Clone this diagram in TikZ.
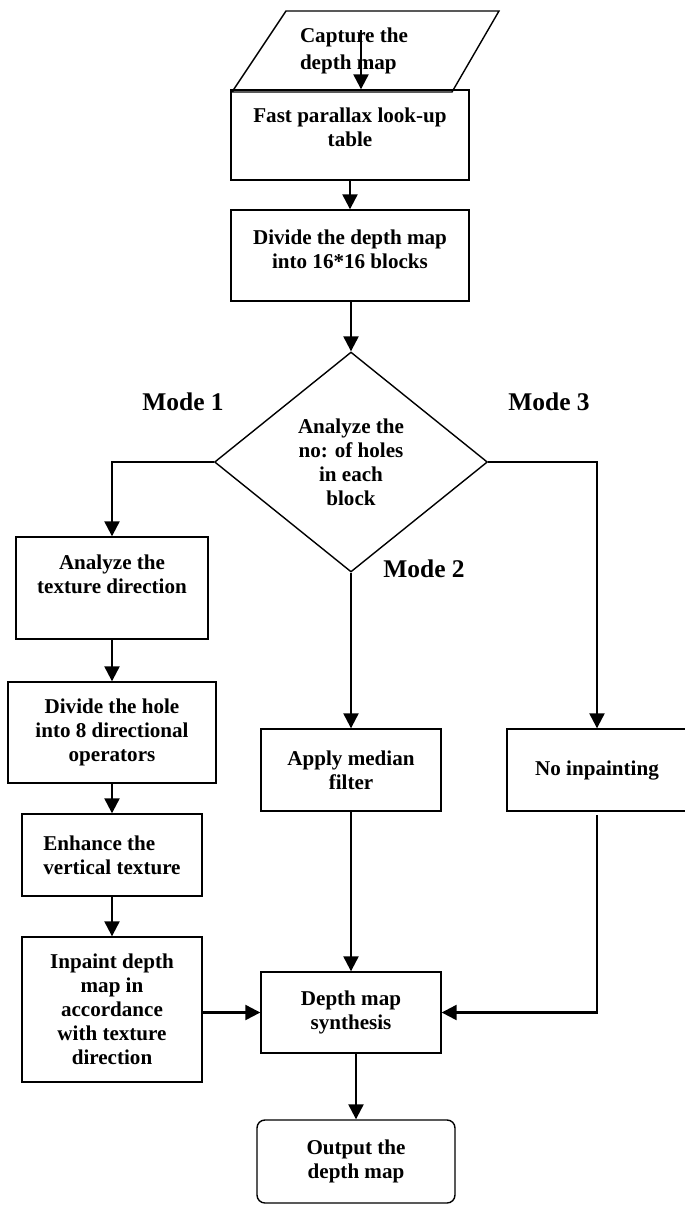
\documentclass[tikz,border=0pt]{standalone}
\usepackage{fontspec}
\setmainfont{Liberation Serif}
\usepackage{tikz}
\usetikzlibrary{arrows.meta,shapes.geometric,calc}

\begin{document}
\begin{tikzpicture}[x=0.02cm,y=-0.02cm,
font=\fontsize{12}{13.6}\selectfont\bfseries,
box/.style={draw,line width=0.8pt,align=center,inner sep=0pt},
arr/.style={line width=1.3pt,-{Triangle[length=8.5pt,width=8.5pt]}},
mode/.style={font=\fontsize{14.5}{16}\selectfont\bfseries}]
\useasboundingbox (0,0) rectangle (684,1205);
\draw[line width=0.8pt] (232,92) -- (286,11) -- (499,11) -- (452,92) -- cycle;
\node[align=left] (capture) at (354,51) {Capture the\\[1.7pt]depth map};
\coordinate (cap) at (361,30);
\node[box,minimum width=4.76cm,minimum height=1.8cm] (fast) at (350,135) {Fast parallax look-up\\table\\[-5pt]\mbox{}};
\node[box,minimum width=4.76cm,minimum height=1.82cm] (blocks) at (350,255.5) {Divide the depth map\\into 16*16 blocks\\[-6.2pt]\mbox{}};
\node[draw,diamond,aspect=1.24,minimum width=5.46cm,minimum height=4.4cm,inner sep=0pt,line width=0.8pt,align=center] (holes) at (351,462) {Analyze the\\no: of holes\\in each\\block};
\node[mode] (m1) at (183,402) {Mode 1};
\node[mode] (m3) at (549,402) {Mode 3};
\node[mode] (m2) at (424,569) {Mode 2};
\node[box,minimum width=3.84cm,minimum height=2.04cm] (texture) at (112,588) {Analyze the\\texture direction\\[1.8pt]\mbox{}};
\node[box,minimum width=4.16cm,minimum height=2.02cm] (hole) at (112,732.5) {Divide the hole\\into 8 directional\\operators};
\node[box,align=left,minimum width=3.6cm,minimum height=1.64cm] (enhance) at (112,855) {Enhance the\\vertical texture};
\node[box,minimum width=3.6cm,minimum height=2.9cm] (inpaint) at (112,1009.5) {Inpaint depth\\map in\\accordance\\with texture\\direction};
\node[box,minimum width=3.6cm,minimum height=1.64cm] (apply) at (351,770) {Apply median\\filter};
\node[box,minimum width=3.6cm,minimum height=1.64cm] (noinp) at (597,770) {No inpainting};
\node[box,minimum width=3.6cm,minimum height=1.62cm] (synth) at (351,1012.5) {Depth map\\synthesis};
\node[box,rounded corners=4.5pt,minimum width=3.96cm,minimum height=1.66cm] (output) at (356,1161.5) {Output the\\depth map};
\draw[arr] (cap) -- (cap |- fast.north);
\draw[arr] (fast) -- (blocks);
\draw[arr] (blocks.south -| holes.north) -- (holes.north);
\draw[arr] (holes.west) -| (texture.north);
\draw[arr] (holes.east) -| (noinp.north);
\draw[arr] (holes.south) -- (apply.north);
\draw[arr] (texture) -- (hole);
\draw[arr] (hole) -- (enhance);
\draw[arr] (enhance) -- (inpaint);
\draw[arr] (inpaint.east |- synth.west) -- (synth.west);
\draw[arr] (apply) -- (synth);
\draw[arr] ([yshift=-2pt]noinp.south) |- (synth.east);
\draw[arr] (synth.south -| output.north) -- (output.north);
\end{tikzpicture}
\end{document}
